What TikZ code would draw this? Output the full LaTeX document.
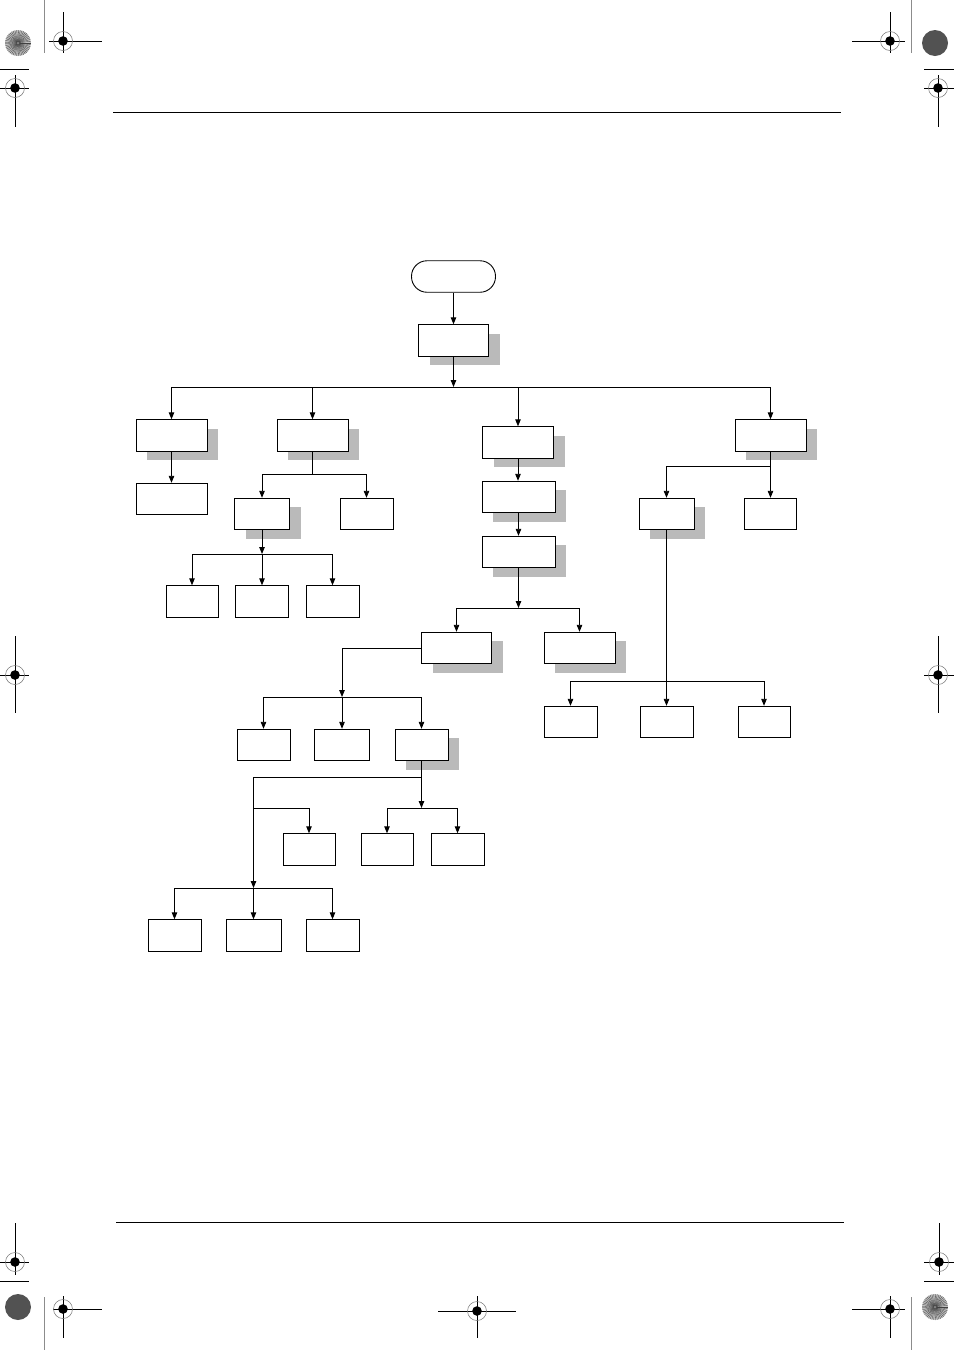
\documentclass[tikz,border=0pt]{standalone}
\usetikzlibrary{arrows.meta,shadows}

\tikzset{
  box/.style={draw, fill=white, line width=0.9pt, inner sep=0pt,
              minimum width=#1, minimum height=31.5pt},
  box/.default=71pt,
  sbox/.style={box=#1, drop shadow={shadow xshift=11pt, shadow yshift=-9pt,
               fill=black!27, opacity=1}},
  sbox/.default=71pt,
  arr/.style={-{Triangle[length=7pt, width=5.5pt]}, line width=0.9pt},
  link/.style={line width=0.9pt},
  crop/.style={line width=0.8pt},
}
\newcommand{\regtarget}[1]{%
  \draw[black!55, line width=0.5pt] (#1) circle[radius=9.5];
  \fill (#1) circle[radius=4.8];}
\newcommand{\starburst}[1]{%
  \fill[black!25] (#1) circle[radius=13];
  \foreach \a in {0,8,...,352} \draw[black!75, line width=0.3pt] (#1) -- ++(\a:13);
  \fill[black!50] (#1) circle[radius=1.5];}

\begin{document}
\begin{tikzpicture}[x=1pt, y=-1pt]
\useasboundingbox (0,0) rectangle (954,1350);

% page rules
\draw[line width=0.6pt] (113,112.5) -- (841,112.5);
\draw[line width=0.6pt] (116,1222.5) -- (844,1222.5);

% registration marks, top
\starburst{18,43}
\draw[black!45, line width=0.8pt] (44,0) -- (44,53);
\draw[crop] (49,41) -- (102,41) (63,12) -- (63,53);
\regtarget{63,41}
\draw[crop] (0,69) -- (29,69);
\draw[crop] (0,88) -- (29,88) (15,75) -- (15,127);
\regtarget{15,88}
\fill[black!68] (935,43) circle[radius=13];
\draw[black!45, line width=0.8pt] (911,0) -- (911,53);
\draw[crop] (852,41) -- (905,41) (890,12) -- (890,53);
\regtarget{890,41}
\draw[crop] (924,69) -- (954,69);
\draw[crop] (924,88) -- (954,88) (938,75) -- (938,127);
\regtarget{938,88}

% registration marks, middle
\draw[crop] (0,675) -- (29,675) (15,636) -- (15,713);
\regtarget{15,675}
\draw[crop] (924,675) -- (954,675) (938,636) -- (938,713);
\regtarget{938,675}

% registration marks, bottom
\draw[crop] (0,1262) -- (29,1262) (15,1223) -- (15,1275);
\regtarget{15,1262}
\draw[crop] (0,1281) -- (29,1281);
\fill[black!68] (18,1307) circle[radius=13];
\draw[black!45, line width=0.8pt] (44,1297) -- (44,1350);
\draw[crop] (53,1309) -- (102,1309) (63,1296) -- (63,1338);
\regtarget{63,1309}
\draw[crop] (438,1311) -- (516,1311) (477,1296) -- (477,1338);
\regtarget{477,1311}
\draw[crop] (924,1262) -- (954,1262) (939,1223) -- (939,1275);
\regtarget{939,1262}
\draw[crop] (924,1281) -- (954,1281);
\starburst{935,1307}
\draw[black!45, line width=0.8pt] (911,1297) -- (911,1350);
\draw[crop] (852,1309) -- (905,1309) (890,1296) -- (890,1338);
\regtarget{890,1309}

% flowchart boxes
\node[box=84pt, rounded corners=15.5pt] (start) at (453.5,276.5) {};
\node[sbox=70pt] (top) at (453.5,340.5) {};

\node[sbox] (a) at (171.5,435.5) {};
\node[sbox] (b) at (312.5,435.5) {};
\node[sbox] (c) at (518,442.5) {};
\node[sbox] (d) at (770.5,435.5) {};

\node[box] (a1) at (171.5,499) {};
\node[sbox=55pt] (b1) at (262,514) {};
\node[box=53pt] (b2) at (366.5,514) {};
\node[box=52pt] (b11) at (192,601.5) {};
\node[box=53pt] (b12) at (262,601.5) {};
\node[box=53pt] (b13) at (332.5,601.5) {};

\node[sbox=73pt] (c2) at (518.5,497) {};
\node[sbox=73pt] (c3) at (518.5,552) {};
\node[sbox=70pt] (e) at (456.5,648) {};
\node[sbox] (f) at (579.5,648) {};

\node[box=53pt] (g1) at (263.5,745) {};
\node[box=55pt] (g2) at (342,745) {};
\node[sbox=53pt] (g3) at (421.5,745) {};
\node[box=52pt] (h1) at (309,849.5) {};
\node[box=52pt] (h2) at (387,849.5) {};
\node[box=53pt] (h3) at (457.5,849.5) {};
\node[box=53pt] (i1) at (174.5,935.5) {};
\node[box=55pt] (i2) at (253.5,935.5) {};
\node[box=53pt] (i3) at (332.5,935.5) {};

\node[sbox=55pt] (j) at (666.5,514) {};
\node[box=52pt] (k) at (770.5,514) {};
\node[box=53pt] (l1) at (570.5,722) {};
\node[box=53pt] (l2) at (666.5,722) {};
\node[box=52pt] (l3) at (764,722) {};

% bus points
\coordinate (bus0) at (453.5,387);
\coordinate (busb) at (312.5,474);
\coordinate (busb1) at (262,554);
\coordinate (busc) at (518.5,608);
\coordinate (busd) at (770.5,466.5);
\coordinate (busj) at (666.5,681);
\coordinate (turne) at (342,648);
\coordinate (buse) at (342,697);
\coordinate (splitg) at (421.5,777);
\coordinate (busg) at (421.5,808);
\coordinate (tapg) at (253.5,808);
\coordinate (busi) at (253.5,888);

% connectors
\draw[arr] (start) -- (top);
\draw[arr] (top) -- (bus0);
\draw[link] (a.north |- bus0) -- (d.north |- bus0);
\foreach \n in {a,b,c,d} \draw[arr] (\n.north |- bus0) -- (\n);

\draw[arr] (a) -- (a1);
\draw[link] (b) -- (busb);
\draw[arr] (busb) -| (b1);
\draw[arr] (busb) -| (b2);
\draw[arr] (b1) -- (busb1);
\draw[arr] (busb1) -| (b11);
\draw[arr] (busb1) -- (b12);
\draw[arr] (busb1) -| (b13);

\draw[arr] (c) -- (c.south |- c2.north);
\draw[arr] (c2) -- (c3);
\draw[arr] (c3) -- (busc);
\draw[arr] (busc) -| (e);
\draw[arr] (busc) -| (f);

\draw[link] (e.west) -- (turne);
\draw[arr] (turne) -- (buse);
\draw[arr] (buse) -| (g1);
\draw[arr] (buse) -- (g2);
\draw[arr] (buse) -| (g3);

\draw[arr] (g3) -- (busg);
\draw[arr] (busg) -| (h2);
\draw[arr] (busg) -| (h3);
\draw[arr] (splitg) -| (busi);
\draw[arr] (tapg) -| (h1);
\draw[arr] (busi) -| (i1);
\draw[arr] (busi) -- (i2);
\draw[arr] (busi) -| (i3);

\draw[link] (d) -- (busd);
\draw[arr] (busd) -| (j);
\draw[arr] (busd) -- (k);
\draw[arr] (j) -- (l2);
\draw[arr] (busj) -| (l1);
\draw[arr] (busj) -| (l3);

\end{tikzpicture}
\end{document}
